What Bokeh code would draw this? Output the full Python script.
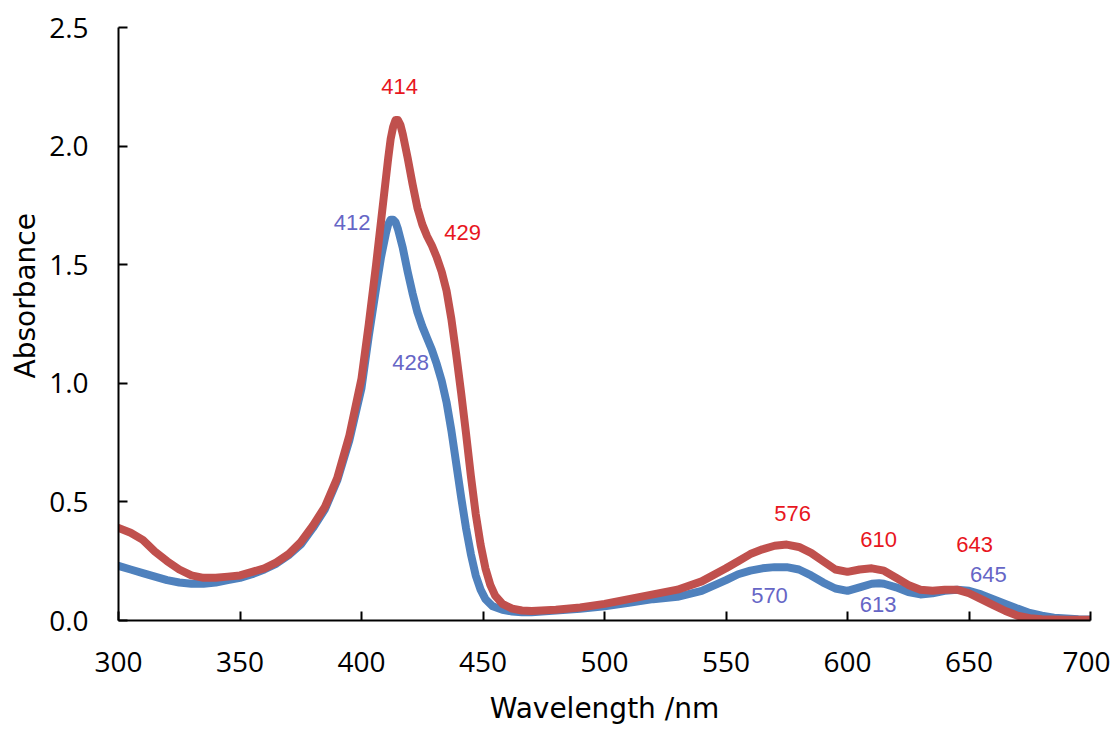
from bokeh.plotting import figure
from bokeh.embed import file_html
from bokeh.resources import INLINE
from bokeh.core.properties import value
from bokeh.models import FixedTicker, Title

# ---- data ----
red_nm = [300, 305, 310, 315, 320, 325, 330, 335, 340, 345, 350, 355, 360, 365, 370, 375, 380, 385, 390, 395,
          400, 403, 406, 409, 411, 412, 413, 414, 415, 416, 417, 419, 421, 423, 425, 427, 429, 431, 433, 435, 437, 439,
          441, 443, 445, 447, 449, 451, 453, 455, 458, 462, 466, 470, 480, 490, 500, 510, 520, 530, 540, 550,
          555, 560, 565, 570, 575, 580, 585, 590, 595, 600, 605, 610, 615, 620, 625, 630, 635, 640, 645, 650,
          655, 660, 665, 670, 675, 680, 690, 700]
red_abs = [0.39, 0.37, 0.34, 0.29, 0.25, 0.215, 0.19, 0.18, 0.18, 0.185, 0.19, 0.205, 0.22, 0.245, 0.28, 0.33, 0.40, 0.48, 0.60, 0.78,
           1.02, 1.25, 1.50, 1.77, 1.95, 2.03, 2.08, 2.11, 2.11, 2.09, 2.05, 1.95, 1.84, 1.74, 1.67, 1.62, 1.58, 1.53, 1.47, 1.39, 1.27, 1.12,
           0.96, 0.79, 0.61, 0.45, 0.32, 0.22, 0.15, 0.105, 0.07, 0.05, 0.042, 0.04, 0.045, 0.055, 0.07, 0.09, 0.11, 0.13, 0.165, 0.22,
           0.25, 0.28, 0.30, 0.315, 0.32, 0.31, 0.285, 0.25, 0.215, 0.205, 0.215, 0.22, 0.21, 0.18, 0.15, 0.13, 0.125, 0.13, 0.13, 0.115,
           0.09, 0.065, 0.04, 0.02, 0.01, 0.005, 0.003, 0.003]

blue_nm = [300, 305, 310, 315, 320, 325, 330, 335, 340, 345, 350, 355, 360, 365, 370, 375, 380, 385, 390, 395,
           400, 403, 406, 408, 410, 411, 412, 413, 414, 415, 417, 419, 421, 423, 425, 427, 429, 431, 433, 435, 437, 439,
           441, 443, 445, 447, 449, 451, 454, 458, 462, 466, 470, 480, 490, 500, 510, 520, 530, 540, 550, 555,
           560, 565, 570, 575, 580, 585, 590, 595, 600, 605, 610, 613, 615, 620, 625, 630, 635, 640, 645, 650,
           655, 660, 665, 670, 675, 680, 685, 690, 695, 700]
blue_abs = [0.23, 0.215, 0.20, 0.185, 0.17, 0.16, 0.155, 0.155, 0.16, 0.17, 0.18, 0.195, 0.215, 0.24, 0.275, 0.32, 0.39, 0.47, 0.59, 0.76,
            0.98, 1.20, 1.40, 1.53, 1.63, 1.67, 1.69, 1.69, 1.68, 1.65, 1.57, 1.47, 1.38, 1.30, 1.24, 1.19, 1.14, 1.08, 1.01, 0.92, 0.80, 0.66,
            0.52, 0.39, 0.28, 0.19, 0.13, 0.09, 0.06, 0.045, 0.038, 0.035, 0.035, 0.042, 0.05, 0.06, 0.075, 0.09, 0.10, 0.125, 0.17, 0.195,
            0.21, 0.22, 0.225, 0.225, 0.215, 0.19, 0.16, 0.135, 0.125, 0.14, 0.155, 0.157, 0.155, 0.14, 0.12, 0.11, 0.115, 0.125, 0.13, 0.125,
            0.11, 0.09, 0.07, 0.05, 0.032, 0.02, 0.012, 0.008, 0.005, 0.004]

red_labels = ["414", "429", "576", "610", "643"]
red_label_x = [415.7, 441.6, 577.4, 612.8, 652.3]
red_label_y = [2.25, 1.634, 0.450, 0.340, 0.319]

blue_labels = ["412", "428", "570", "613", "645"]
blue_label_x = [396.1, 420.2, 567.9, 612.6, 658.0]
blue_label_y = [1.679, 1.088, 0.107, 0.069, 0.193]

x_ticks = [300, 350, 400, 450, 500, 550, 600, 650, 700]
y_ticks = [0.0, 0.5, 1.0, 1.5, 2.0, 2.5]

# ---- figure ----
p = figure(width=1110, height=727, x_range=(300, 700), y_range=(0, 2.5),
           output_backend="svg", toolbar_location=None,
           min_border_left=118, min_border_right=20, min_border_top=27, min_border_bottom=105)
p.outline_line_color = None
p.xgrid.grid_line_color = None
p.ygrid.grid_line_color = None
p.background_fill_color = "white"

p.line(blue_nm, blue_abs, line_color="#4F81BD", line_width=8, line_join="round", line_cap="round")
p.line(red_nm, red_abs, line_color="#C0504D", line_width=8, line_join="round", line_cap="round")

p.text(red_label_x, red_label_y, text=red_labels, text_color="#E8161E",
       text_font=value("Liberation Sans"), text_font_size="22px",
       text_align="center", text_baseline="middle")
p.text(blue_label_x, blue_label_y, text=blue_labels, text_color="#6666C6",
       text_font=value("Liberation Sans"), text_font_size="22px",
       text_align="center", text_baseline="middle")

for ax in (p.xaxis[0], p.yaxis[0]):
    ax.axis_line_color = "black"
    ax.axis_line_width = 2
    ax.major_tick_line_color = "black"
    ax.major_tick_line_width = 2
    ax.major_tick_in = 9
    ax.major_tick_out = 0
    ax.minor_tick_line_color = None
    ax.major_label_text_font = "Open Sans"
    ax.major_label_text_font_size = "28px"
    ax.major_label_text_color = "black"
    ax.axis_label_text_font = "DejaVu Sans"
    ax.axis_label_text_font_size = "28px"
    ax.axis_label_text_font_style = "normal"
    ax.axis_label_text_color = "black"

p.xaxis.ticker = FixedTicker(ticks=x_ticks)
p.yaxis.ticker = FixedTicker(ticks=y_ticks)
p.yaxis.major_label_overrides = {t: f"{t:.1f}" for t in y_ticks}
p.xaxis.axis_label = "Wavelength /nm"
p.xaxis.major_label_standoff = 31
p.yaxis.major_label_standoff = 30
p.xaxis.axis_label_standoff = 17

# y-axis title, sitting a little above the frame centre as in the reference
p.add_layout(Title(text="Absorbance", align="left", offset=242, standoff=10,
                   text_font="DejaVu Sans", text_font_size="28px",
                   text_font_style="normal", text_color="black"), "left")

open("out.html", "w").write(file_html(p, INLINE))
